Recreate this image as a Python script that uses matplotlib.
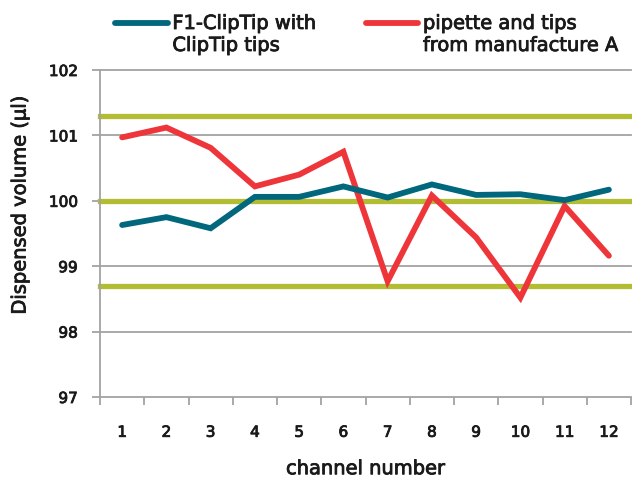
import numpy as np
import matplotlib
matplotlib.use("Agg")
import matplotlib.pyplot as plt
import matplotlib.patheffects as pe

# ── data ─────────────────────────────────────────────────────────────────────
channels = ["1", "2", "3", "4", "5", "6", "7", "8", "9", "10", "11", "12"]
cliptip = [99.63, 99.75, 99.58, 100.06, 100.06, 100.22,
           100.05, 100.25, 100.09, 100.10, 100.01, 100.17]
manuf_a = [100.97, 101.12, 100.81, 100.22, 100.40, 100.75,
           98.77, 100.08, 99.44, 98.52, 99.92, 99.16]
limits = [101.3, 100.0, 98.7]
y_ticks = [97, 98, 99, 100, 101, 102]

label_cliptip = "F1-ClipTip with\nClipTip tips"
label_manuf = "pipette and tips\nfrom manufacture A"

BLUE = "#00677d"
RED = "#ee3539"
GREEN = "#b3bd33"
GRID = "#a3a3a3"
TEXT = "#1a1a1a"

plt.rcParams["font.family"] = ["DejaVu Sans"]
# a little heavier than DejaVu regular, like the medium sans of the original
BOLDISH = [pe.withStroke(linewidth=0.6, foreground=TEXT)]

fig = plt.figure(figsize=(6.32, 4.79), dpi=100)
ax = fig.add_axes([100 / 632, 1 - 397 / 479, 531 / 632, 327 / 479])

x = np.arange(len(channels)) + 0.5

# grid lines
for v in y_ticks:
    ax.axhline(v, color=GRID, lw=1.3, zorder=1, clip_on=False)
# tolerance lines
for v in limits:
    ax.axhline(v, color=GREEN, lw=3.8, zorder=2, clip_on=False)

ax.plot(x, cliptip, color=BLUE, lw=4.2, solid_capstyle="round",
        solid_joinstyle="miter", label=label_cliptip, zorder=4)
ax.plot(x, manuf_a, color=RED, lw=4.2, solid_capstyle="round",
        solid_joinstyle="miter", label=label_manuf, zorder=3)

ax.set_xlim(0, len(channels))
ax.set_ylim(97, 102)
ax.set_yticks(y_ticks)
ax.set_yticklabels([str(v) for v in y_ticks], fontsize=11)

ax.set_xticks(np.arange(len(channels) + 1))
ax.set_xticklabels([])
ax.set_xticks(x, minor=True)
ax.set_xticklabels(channels, minor=True, fontsize=11)
ax.tick_params(axis="x", which="major", length=6, width=1.3, color=GRID, direction="out")
ax.tick_params(axis="x", which="minor", length=0, pad=20)
ax.tick_params(axis="y", length=6, width=1.3, color=GRID, pad=10)

for t in ax.get_yticklabels() + ax.get_xticklabels(minor=True):
    t.set_color(TEXT)
    t.set_path_effects(BOLDISH)

for s in ["top", "right", "bottom"]:
    ax.spines[s].set_visible(False)
ax.spines["left"].set_color(GRID)
ax.spines["left"].set_linewidth(1.3)
ax.spines["left"].set_bounds(97, 102)

ax.set_xlabel("channel number", fontsize=14, labelpad=14, color=TEXT,
              path_effects=BOLDISH)
fig.text(20 / 632, 1 - 205 / 479, "Dispensed volume (µl)", rotation=90,
         fontsize=14, ha="center", va="center", color=TEXT, path_effects=BOLDISH)

leg = ax.legend(loc="upper left", bbox_to_anchor=(115 / 632, 1 - 14 / 479),
                bbox_transform=fig.transFigure, ncol=2, frameon=False,
                fontsize=14, handlelength=2.7, handletextpad=0.25,
                columnspacing=2.5, borderpad=0, borderaxespad=0)
for line in leg.get_lines():
    line.set_linewidth(4.2)
    line.set_solid_capstyle("round")
    # put the handle beside the first line of the label
    line.set_ydata(np.asarray(line.get_ydata()) + 8.5)
for t in leg.get_texts():
    t.set_color(TEXT)
    t.set_path_effects(BOLDISH)

fig.savefig("out.png", dpi=100)
